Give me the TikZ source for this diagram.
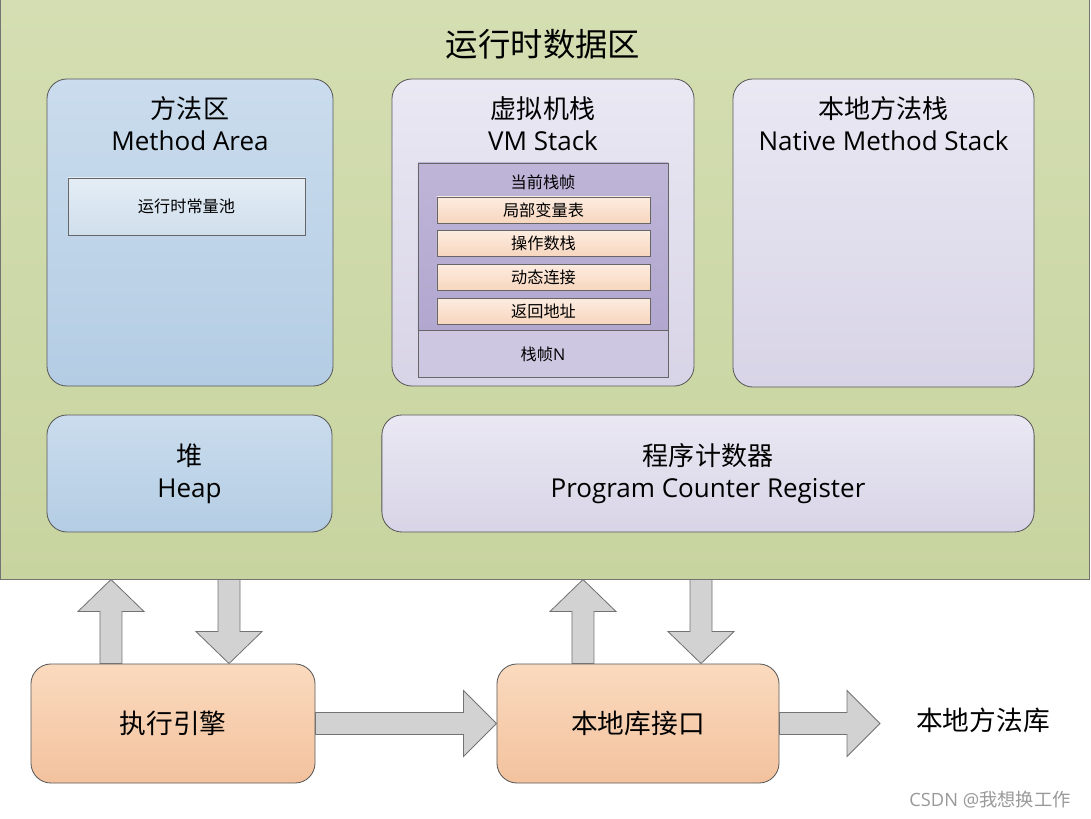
\documentclass[tikz,border=0pt]{standalone}
\usepackage{fontspec}
\setmainfont{Open Sans}
\newfontfamily\cjk{Noto Sans CJK SC}
\usetikzlibrary{positioning,calc}

\definecolor{greentop}{RGB}{212,222,178}
\definecolor{greenbot}{RGB}{200,212,160}
\definecolor{bluetop}{RGB}{202,220,237}
\definecolor{bluebot}{RGB}{180,205,228}
\definecolor{pooltop}{RGB}{228,237,245}
\definecolor{poolbot}{RGB}{208,223,237}
\definecolor{lilactop}{RGB}{234,232,243}
\definecolor{lilacbot}{RGB}{216,212,231}
\definecolor{framecol}{RGB}{206,199,226}
\definecolor{curtop}{RGB}{190,181,216}
\definecolor{curbot}{RGB}{178,167,207}
\definecolor{peachtop}{RGB}{253,236,224}
\definecolor{peachbot}{RGB}{247,214,190}
\definecolor{orangetop}{RGB}{250,218,190}
\definecolor{orangebot}{RGB}{243,194,158}
\definecolor{arrowgray}{RGB}{210,210,210}

\tikzset{
  box/.style={draw=black!65, line width=0.6pt, rounded corners=0.5cm, inner sep=0pt},
  bluebox/.style={box, top color=bluetop, bottom color=bluebot},
  lilacbox/.style={box, top color=lilactop, bottom color=lilacbot},
  orangebox/.style={box, top color=orangetop, bottom color=orangebot, font=\cjk\fontsize{19}{23}\selectfont},
  head/.style={align=center, font=\fontsize{18.5}{22.7}\selectfont},
  lbl/.style={font=\cjk\fontsize{11.5}{14}\selectfont},
  slot/.style={draw=black!60, line width=0.5pt, top color=peachtop, bottom color=peachbot,
    minimum width=5.325cm, minimum height=0.65cm, inner sep=0pt, lbl},
  fat/.style={draw=black!55, fill=arrowgray, line width=0.6pt},
  fatv/.style={to path={let \p1=(\tikztostart), \p2=(\tikztotarget), \n1={ifthenelse(\y2>\y1,1,-1)} in
    ({\x1-0.275cm},\y1) -- ({\x1-0.275cm},{\y2-(\n1)*0.8cm}) -- ({\x1-0.825cm},{\y2-(\n1)*0.8cm}) -- (\x1,\y2)
    -- ({\x1+0.825cm},{\y2-(\n1)*0.8cm}) -- ({\x1+0.275cm},{\y2-(\n1)*0.8cm}) -- ({\x1+0.275cm},\y1) -- cycle}},
  fath/.style={to path={let \p1=(\tikztostart), \p2=(\tikztotarget) in
    (\x1,{\y1+0.275cm}) -- ({\x2-0.825cm},{\y1+0.275cm}) -- ({\x2-0.825cm},{\y1+0.825cm}) -- (\x2,\y1)
    -- ({\x2-0.825cm},{\y1-0.825cm}) -- ({\x2-0.825cm},{\y1-0.275cm}) -- (\x1,{\y1-0.275cm}) -- cycle}}
}

\begin{document}
\begin{tikzpicture}[x=0.025cm, y=-0.025cm]
\useasboundingbox (0,0) rectangle (1091,819);
% runtime data area
\node[draw=black!55, line width=0.6pt, top color=greentop, bottom color=greenbot, inner sep=0pt,
  minimum width=27.2cm, minimum height=14.5cm] (rtda) at (545,289) {};
\node[font=\cjk\fontsize{23}{27}\selectfont] (title) at (543,44) {运行时数据区};
% method area
\node[bluebox, minimum width=7.15cm, minimum height=7.675cm] (ma) at (190,232.5) {};
\node[head] (matxt) at ([yshift=-1.125cm]ma.north) {{\cjk 方法区}\\Method Area};
\node[draw=black!60, line width=0.5pt, top color=pooltop, bottom color=poolbot, inner sep=0pt,
  minimum width=5.925cm, minimum height=1.425cm, lbl] (pool) at (186.5,206.5) {运行时常量池};
% vm stack
\node[lilacbox, minimum width=7.55cm, minimum height=7.675cm] (vms) at (543,232.5) {};
\node[head] (vmstxt) at ([yshift=-1.125cm]vms.north) {{\cjk 虚拟机栈}\\VM Stack};
\node[draw=black!60, line width=0.5pt, fill=framecol, inner sep=0pt,
  minimum width=6.25cm, minimum height=5.35cm] (frame) at (543,270) {};
\node[draw=black!60, line width=0.5pt, top color=curtop, bottom color=curbot, inner sep=0pt,
  minimum width=6.25cm, minimum height=4.175cm, anchor=north] (cur) at (frame.north) {};
\node[lbl] (curtxt) at (543,182) {当前栈帧};
\node[slot] (lvt) at (543.5,210) {局部变量表};
\node[slot, below=0.175cm of lvt] (ops) {操作数栈};
\node[slot, below=0.175cm of ops] (dyn) {动态连接};
\node[slot, below=0.175cm of dyn] (ret) {返回地址};
\node[lbl] (frn) at ($(cur.south)!0.5!(frame.south)$) {栈帧{\fontspec{Open Sans}N}};
% native method stack
\node[lilacbox, minimum width=7.525cm, minimum height=7.7cm] (nms) at (883.5,233) {};
\node[head] (nmstxt) at ([yshift=-1.125cm]nms.north) {{\cjk 本地方法栈}\\Native Method Stack};
% heap and pc register
\node[bluebox, head, minimum width=7.125cm, minimum height=2.925cm] (heap) at (189.5,473.5) {{\cjk 堆}\\Heap};
\node[lilacbox, head, minimum width=16.3cm, minimum height=2.925cm] (pcr) at (708,473.5) {{\cjk 程序计数器}\\Program Counter Register};
% engine and native interface
\node[orangebox, minimum width=7.1cm, minimum height=2.975cm] (ee) at (173,723.5) {执行引擎};
\node[orangebox, minimum width=7.05cm, minimum height=2.975cm] (nli) at (638,723.5) {本地库接口};
\node[font=\cjk\fontsize{19}{23}\selectfont] (lib) at (983,720) {本地方法库};
\node[font=\fontsize{13}{15}\selectfont, text=black!40] (mark) at (990,800) {CSDN @{\cjk 我想换工作}};
% arrows
\coordinate (eeup) at ([xshift=-1.55cm]ee.north);
\coordinate (eedown) at ([xshift=1.4cm]ee.north);
\coordinate (nliup) at ([xshift=-1.375cm]nli.north);
\coordinate (nlidown) at ([xshift=1.575cm]nli.north);
\coordinate (libend) at (880,720);
\draw[fat, fatv] (eeup) to (eeup |- rtda.south);
\draw[fat, fatv] (eedown |- rtda.south) to (eedown);
\draw[fat, fatv] (nliup) to (nliup |- rtda.south);
\draw[fat, fatv] (nlidown |- rtda.south) to (nlidown);
\draw[fat, fath] (ee.east) to (nli.west);
\draw[fat, fath] (nli.east) to (libend);
\end{tikzpicture}
\end{document}
